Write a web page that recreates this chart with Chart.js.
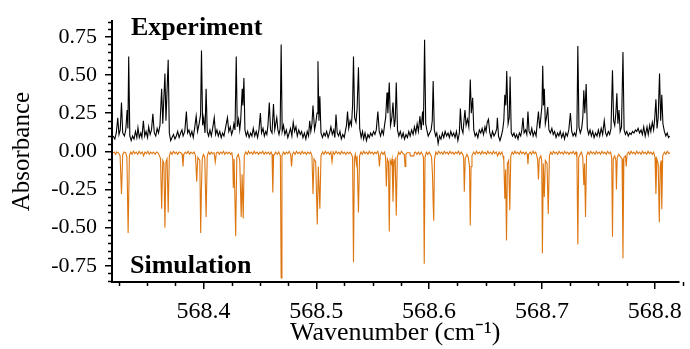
<!DOCTYPE html>
<html>
<head>
<meta charset="utf-8">
<script src="https://cdn.jsdelivr.net/npm/chart.js@4/dist/chart.umd.min.js"></script>
<style>
  body { margin: 0; background: #fff; }
</style>
</head>
<body>
<canvas id="myChart" width="690" height="349"></canvas>
<script>
// axis ticks (major)
const xTicks = [568.4, 568.5, 568.6, 568.7, 568.8];
const yTicks = [-0.75, -0.5, -0.25, 0, 0.25, 0.5, 0.75];

// measured spectrum, [wavenumber, absorbance]
const experiment = [
[568.3200,0.10],[568.3215,0.08],[568.3228,0.12],[568.3241,0.22],[568.3252,0.11],[568.3263,0.14],[568.3274,0.32],[568.3285,0.12],
[568.3300,0.10],[568.3312,0.14],[568.3324,0.27],[568.3331,0.15],[568.3338,0.62],[568.3348,0.10],[568.3360,0.07],[568.3372,0.10],
[568.3385,0.08],[568.3398,0.13],[568.3410,0.09],[568.3420,0.155],[568.3432,0.09],[568.3445,0.12],[568.3455,0.09],[568.3468,0.20],
[568.3480,0.10],[568.3492,0.13],[568.3505,0.09],[568.3515,0.16],[568.3528,0.11],[568.3540,0.14],[568.3552,0.245],[568.3565,0.12],
[568.3578,0.10],[568.3590,0.15],[568.3602,0.12],[568.3615,0.17],[568.3630,0.41],[568.3640,0.18],[568.3659,0.51],[568.3668,0.20],
[568.3688,0.60],[568.3698,0.12],[568.3710,0.07],[568.3722,0.09],[568.3735,0.11],[568.3748,0.08],[568.3760,0.10],[568.3772,0.13],
[568.3785,0.09],[568.3798,0.12],[568.3810,0.14],[568.3820,0.10],[568.3835,0.13],[568.3849,0.26],[568.3860,0.12],[568.3872,0.14],
[568.3885,0.10],[568.3898,0.13],[568.3910,0.09],[568.3922,0.15],[568.3936,0.23],[568.3948,0.13],[568.3962,0.18],[568.3975,0.24],
[568.3983,0.66],[568.3993,0.17],[568.4003,0.22],[568.4014,0.12],[568.4024,0.41],[568.4034,0.13],[568.4046,0.10],[568.4058,0.14],
[568.4070,0.10],[568.4082,0.15],[568.4096,0.22],[568.4108,0.11],[568.4120,0.14],[568.4132,0.10],[568.4145,0.13],[568.4158,0.09],
[568.4170,0.12],[568.4182,0.10],[568.4195,0.15],[568.4213,0.22],[568.4225,0.13],[568.4238,0.16],[568.4250,0.11],[568.4262,0.14],
[568.4270,0.18],[568.4280,0.14],[568.4291,0.62],[568.4300,0.16],[568.4312,0.21],[568.4322,0.14],[568.4330,0.20],[568.4344,0.41],
[568.4350,0.30],[568.4359,0.48],[568.4368,0.14],[568.4380,0.10],[568.4392,0.13],[568.4405,0.09],[568.4418,0.12],[568.4430,0.10],
[568.4442,0.15],[568.4455,0.10],[568.4468,0.13],[568.4480,0.09],[568.4492,0.14],[568.4505,0.25],[568.4515,0.12],[568.4528,0.15],
[568.4540,0.10],[568.4552,0.13],[568.4562,0.11],[568.4572,0.17],[568.4584,0.32],[568.4595,0.14],[568.4608,0.12],[568.4621,0.31],
[568.4632,0.14],[568.4650,0.22],[568.4660,0.14],[568.4670,0.11],[568.4680,0.15],[568.4689,0.70],[568.4698,0.13],[568.4710,0.17],
[568.4722,0.11],[568.4735,0.14],[568.4748,0.09],[568.4760,0.12],[568.4772,0.15],[568.4784,0.10],[568.4796,0.19],[568.4808,0.13],
[568.4820,0.16],[568.4832,0.10],[568.4845,0.14],[568.4858,0.11],[568.4870,0.13],[568.4882,0.09],[568.4895,0.12],[568.4908,0.08],
[568.4920,0.13],[568.4932,0.10],[568.4942,0.20],[568.4952,0.13],[568.4962,0.18],[568.4971,0.30],[568.4985,0.14],[568.4995,0.18],
[568.5007,0.25],[568.5015,0.59],[568.5024,0.20],[568.5032,0.36],[568.5042,0.12],[568.5055,0.09],[568.5068,0.12],[568.5080,0.10],
[568.5092,0.13],[568.5105,0.09],[568.5118,0.12],[568.5130,0.16],[568.5142,0.11],[568.5155,0.14],[568.5165,0.09],[568.5175,0.24],
[568.5186,0.12],[568.5198,0.10],[568.5210,0.13],[568.5222,0.08],[568.5235,0.11],[568.5248,0.09],[568.5260,0.14],[568.5268,0.17],
[568.5277,0.26],[568.5288,0.15],[568.5300,0.20],[568.5312,0.17],[568.5322,0.30],[568.5330,0.62],[568.5340,0.22],[568.5352,0.19],
[568.5362,0.28],[568.5374,0.55],[568.5385,0.15],[568.5398,0.09],[568.5410,0.13],[568.5420,0.08],[568.5432,0.12],[568.5445,0.07],
[568.5458,0.11],[568.5470,0.09],[568.5482,0.12],[568.5495,0.10],[568.5508,0.13],[568.5520,0.11],[568.5532,0.14],[568.5546,0.26],
[568.5558,0.13],[568.5570,0.10],[568.5582,0.14],[568.5595,0.11],[568.5605,0.17],[568.5615,0.22],[568.5627,0.385],[568.5635,0.25],
[568.5647,0.45],[568.5658,0.17],[568.5670,0.22],[568.5680,0.32],[568.5692,0.16],[568.5700,0.21],[568.5709,0.45],[568.5720,0.14],
[568.5732,0.10],[568.5745,0.13],[568.5758,0.09],[568.5770,0.12],[568.5782,0.08],[568.5795,0.11],[568.5808,0.09],[568.5820,0.13],
[568.5832,0.10],[568.5845,0.14],[568.5858,0.11],[568.5870,0.16],[568.5882,0.12],[568.5894,0.18],[568.5905,0.13],[568.5919,0.23],
[568.5930,0.14],[568.5942,0.26],[568.5950,0.17],[568.5960,0.73],[568.5970,0.18],[568.5980,0.14],[568.5992,0.10],[568.6005,0.12],
[568.6018,0.14],[568.6028,0.20],[568.6036,0.46],[568.6046,0.14],[568.6058,0.10],[568.6068,0.12],[568.6080,0.05],[568.6092,0.10],
[568.6105,0.08],[568.6118,0.12],[568.6130,0.09],[568.6142,0.13],[568.6155,0.10],[568.6168,0.12],[568.6180,0.09],[568.6192,0.13],
[568.6205,0.10],[568.6218,0.12],[568.6230,0.09],[568.6242,0.13],[568.6255,0.07],[568.6268,0.12],[568.6277,0.28],[568.6288,0.15],
[568.6300,0.12],[568.6309,0.20],[568.6318,0.27],[568.6328,0.17],[568.6340,0.21],[568.6352,0.16],[568.6365,0.47],[568.6374,0.25],
[568.6386,0.35],[568.6396,0.14],[568.6408,0.10],[568.6420,0.12],[568.6432,0.09],[568.6445,0.14],[568.6458,0.12],[568.6470,0.15],
[568.6482,0.11],[568.6495,0.16],[568.6505,0.13],[568.6515,0.19],[568.6526,0.21],[568.6538,0.12],[568.6550,0.09],[568.6562,0.13],
[568.6575,0.10],[568.6588,0.12],[568.6600,0.15],[568.6605,0.22],[568.6615,0.10],[568.6628,0.07],[568.6640,0.10],[568.6652,0.14],
[568.6662,0.20],[568.6671,0.37],[568.6680,0.30],[568.6688,0.525],[568.6700,0.18],[568.6710,0.22],[568.6718,0.49],[568.6728,0.12],
[568.6740,0.10],[568.6752,0.12],[568.6764,0.09],[568.6776,0.11],[568.6788,0.08],[568.6800,0.12],[568.6812,0.10],[568.6822,0.14],
[568.6832,0.22],[568.6842,0.12],[568.6855,0.14],[568.6866,0.11],[568.6876,0.26],[568.6886,0.13],[568.6898,0.11],[568.6910,0.15],
[568.6922,0.10],[568.6935,0.13],[568.6948,0.10],[568.6958,0.18],[568.6969,0.26],[568.6980,0.15],[568.6990,0.22],[568.7000,0.30],
[568.7007,0.56],[568.7014,0.30],[568.7021,0.41],[568.7030,0.18],[568.7040,0.22],[568.7051,0.29],[568.7062,0.14],[568.7075,0.12],
[568.7088,0.15],[568.7100,0.11],[568.7112,0.13],[568.7125,0.09],[568.7138,0.12],[568.7150,0.10],[568.7162,0.13],[568.7175,0.09],
[568.7188,0.12],[568.7200,0.08],[568.7212,0.12],[568.7225,0.10],[568.7238,0.14],[568.7252,0.25],[568.7264,0.13],[568.7276,0.10],
[568.7288,0.12],[568.7300,0.10],[568.7310,0.15],[568.7318,0.69],[568.7328,0.16],[568.7340,0.12],[568.7352,0.15],[568.7362,0.22],
[568.7371,0.40],[568.7380,0.25],[568.7392,0.44],[568.7402,0.15],[568.7414,0.11],[568.7426,0.14],[568.7438,0.10],[568.7450,0.13],
[568.7462,0.09],[568.7475,0.12],[568.7488,0.10],[568.7500,0.14],[568.7512,0.10],[568.7525,0.15],[568.7538,0.11],[568.7552,0.20],
[568.7564,0.12],[568.7575,0.10],[568.7588,0.13],[568.7600,0.11],[568.7612,0.15],[568.7625,0.53],[568.7635,0.20],[568.7645,0.17],
[568.7655,0.25],[568.7664,0.38],[568.7673,0.18],[568.7683,0.27],[568.7693,0.13],[568.7705,0.16],[568.7718,0.65],[568.7728,0.14],
[568.7740,0.11],[568.7752,0.13],[568.7765,0.10],[568.7778,0.12],[568.7790,0.11],[568.7802,0.13],[568.7815,0.12],[568.7828,0.14],
[568.7840,0.13],[568.7852,0.15],[568.7865,0.12],[568.7878,0.14],[568.7890,0.11],[568.7902,0.16],[568.7915,0.10],[568.7931,0.16],
[568.7942,0.11],[568.7955,0.17],[568.7965,0.13],[568.7978,0.19],[568.7990,0.14],[568.8000,0.22],[568.8010,0.34],[568.8020,0.15],
[568.8030,0.22],[568.8042,0.51],[568.8052,0.20],[568.8062,0.37],[568.8072,0.18],[568.8085,0.13],[568.8098,0.10],[568.8110,0.12],
[568.8122,0.09],[568.8132,0.10]
];

// simulated spectrum (plotted downward), [wavenumber, absorbance]
const simulation = [
[568.3201,-0.01],[568.3210,-0.005],[568.3222,-0.02],[568.3232,-0.005],[568.3248,-0.01],[568.3262,-0.03],[568.3274,-0.28],[568.3285,-0.02],
[568.3298,-0.005],[568.3312,-0.01],[568.3322,-0.04],[568.3333,-0.535],[568.3344,-0.03],[568.3356,-0.005],[568.3368,-0.02],[568.3380,0],
[568.3392,-0.015],[568.3405,-0.005],[568.3418,-0.02],[568.3430,0],[568.3444,-0.015],[568.3458,-0.005],[568.3470,-0.03],[568.3482,-0.005],
[568.3495,-0.015],[568.3508,0],[568.3520,-0.02],[568.3532,-0.005],[568.3545,-0.015],[568.3558,-0.005],[568.3572,-0.02],[568.3585,-0.005],
[568.3598,-0.01],[568.3612,-0.03],[568.3620,-0.05],[568.3630,-0.376],[568.3640,-0.06],[568.3650,-0.08],[568.3659,-0.50],[568.3668,-0.07],
[568.3678,-0.05],[568.3688,-0.40],[568.3698,-0.03],[568.3710,-0.005],[568.3722,-0.02],[568.3735,0],[568.3748,-0.015],[568.3760,-0.005],
[568.3772,-0.02],[568.3785,-0.005],[568.3800,-0.01],[568.3812,-0.02],[568.3819,-0.10],[568.3826,-0.02],[568.3840,-0.005],[568.3852,-0.015],
[568.3865,0],[568.3878,-0.02],[568.3890,-0.005],[568.3905,-0.015],[568.3918,-0.005],[568.3930,-0.03],[568.3941,-0.20],[568.3950,-0.04],
[568.3968,-0.06],[568.3976,-0.535],[568.3982,-0.26],[568.3990,-0.05],[568.4000,-0.02],[568.4012,-0.04],[568.4024,-0.43],[568.4034,-0.03],
[568.4046,-0.005],[568.4058,-0.02],[568.4070,-0.005],[568.4082,-0.015],[568.4095,-0.01],[568.4105,-0.07],[568.4115,-0.01],[568.4128,-0.005],
[568.4140,-0.02],[568.4152,-0.005],[568.4165,-0.015],[568.4178,0],[568.4190,-0.02],[568.4202,-0.005],[568.4215,-0.015],[568.4228,-0.005],
[568.4240,-0.02],[568.4252,-0.01],[568.4260,-0.05],[568.4265,-0.24],[568.4272,-0.05],[568.4286,-0.556],[568.4296,-0.04],[568.4310,-0.02],
[568.4322,-0.06],[568.4335,-0.43],[568.4343,-0.15],[568.4353,-0.44],[568.4362,-0.03],[568.4375,-0.005],[568.4388,-0.02],[568.4400,0],
[568.4412,-0.015],[568.4425,-0.005],[568.4438,-0.02],[568.4450,0],[568.4462,-0.015],[568.4475,-0.005],[568.4488,-0.02],[568.4500,-0.005],
[568.4512,-0.015],[568.4525,0],[568.4538,-0.02],[568.4550,-0.005],[568.4562,-0.015],[568.4575,-0.005],[568.4588,-0.02],[568.4600,-0.005],
[568.4608,-0.02],[568.4615,-0.27],[568.4622,-0.03],[568.4640,-0.005],[568.4655,-0.02],[568.4668,-0.005],[568.4682,-0.03],[568.4689,-0.83],
[568.4696,-0.03],[568.4710,-0.005],[568.4722,-0.02],[568.4735,-0.005],[568.4748,-0.015],[568.4760,0],[568.4773,-0.02],[568.4781,-0.10],
[568.4789,-0.02],[568.4800,-0.005],[568.4812,-0.02],[568.4825,0],[568.4838,-0.015],[568.4850,-0.005],[568.4862,-0.02],[568.4875,0],
[568.4888,-0.015],[568.4900,-0.005],[568.4912,-0.02],[568.4925,-0.005],[568.4938,-0.015],[568.4950,-0.005],[568.4962,-0.03],[568.4971,-0.28],
[568.4980,-0.05],[568.4995,-0.07],[568.5009,-0.48],[568.5018,-0.10],[568.5032,-0.376],[568.5042,-0.03],[568.5055,-0.005],[568.5068,-0.02],
[568.5080,0],[568.5092,-0.015],[568.5105,-0.005],[568.5118,-0.02],[568.5130,-0.005],[568.5140,-0.07],[568.5150,-0.005],[568.5162,-0.02],
[568.5175,0],[568.5188,-0.015],[568.5200,-0.005],[568.5212,-0.02],[568.5225,0],[568.5238,-0.015],[568.5250,-0.005],[568.5262,-0.02],
[568.5275,-0.005],[568.5288,-0.015],[568.5300,-0.005],[568.5312,-0.02],[568.5322,-0.04],[568.5330,-0.727],[568.5338,-0.05],[568.5346,-0.02],
[568.5355,-0.08],[568.5362,-0.03],[568.5374,-0.40],[568.5384,-0.03],[568.5396,-0.005],[568.5408,-0.02],[568.5420,0],[568.5432,-0.015],
[568.5445,-0.005],[568.5458,-0.02],[568.5470,0],[568.5482,-0.015],[568.5495,-0.005],[568.5508,-0.02],[568.5520,-0.005],[568.5532,-0.015],
[568.5545,0],[568.5552,-0.02],[568.5560,-0.10],[568.5568,-0.02],[568.5580,-0.005],[568.5592,-0.02],[568.5605,-0.005],[568.5614,-0.04],
[568.5621,-0.23],[568.5630,-0.05],[568.5640,-0.07],[568.5647,-0.525],[568.5655,-0.06],[568.5664,-0.08],[568.5672,-0.05],[568.5680,-0.33],
[568.5690,-0.07],[568.5700,-0.05],[568.5709,-0.42],[568.5718,-0.04],[568.5730,-0.005],[568.5742,-0.02],[568.5755,0],[568.5768,-0.015],
[568.5780,-0.02],[568.5787,-0.10],[568.5794,-0.02],[568.5805,-0.01],[568.5830,-0.01],[568.5835,-0.03],[568.5865,-0.03],[568.5870,-0.01],
[568.5880,-0.005],[568.5892,-0.02],[568.5905,-0.005],[568.5918,-0.02],[568.5930,-0.005],[568.5942,-0.02],[568.5950,-0.04],[568.5957,-0.737],
[568.5964,-0.04],[568.5975,-0.005],[568.5988,-0.02],[568.6000,-0.005],[568.6012,-0.02],[568.6022,-0.04],[568.6030,-0.15],[568.6036,-0.34],
[568.6041,-0.455],[568.6048,-0.05],[568.6060,-0.005],[568.6072,-0.02],[568.6085,0],[568.6098,-0.015],[568.6110,-0.005],[568.6122,-0.02],
[568.6135,0],[568.6148,-0.015],[568.6160,-0.005],[568.6172,-0.02],[568.6185,0],[568.6198,-0.015],[568.6210,-0.005],[568.6222,-0.02],
[568.6235,-0.005],[568.6248,-0.015],[568.6260,0],[568.6272,-0.02],[568.6285,-0.005],[568.6298,-0.02],[568.6306,-0.04],[568.6312,-0.265],
[568.6320,-0.05],[568.6335,-0.02],[568.6348,-0.04],[568.6358,-0.10],[568.6365,-0.486],[568.6372,-0.10],[568.6380,-0.03],[568.6395,-0.005],
[568.6408,-0.02],[568.6420,0],[568.6432,-0.015],[568.6445,-0.005],[568.6458,-0.02],[568.6470,0],[568.6482,-0.015],[568.6495,-0.005],
[568.6508,-0.02],[568.6520,0],[568.6532,-0.015],[568.6545,-0.005],[568.6558,-0.02],[568.6570,0],[568.6582,-0.015],[568.6595,-0.005],
[568.6608,-0.03],[568.6620,-0.005],[568.6632,-0.02],[568.6645,-0.005],[568.6655,-0.03],[568.6662,-0.06],[568.6671,-0.31],[568.6678,-0.12],
[568.6686,-0.584],[568.6694,-0.08],[568.6705,-0.06],[568.6715,-0.386],[568.6724,-0.03],[568.6736,-0.005],[568.6748,-0.02],[568.6760,0],
[568.6772,-0.015],[568.6785,-0.005],[568.6798,-0.02],[568.6810,0],[568.6822,-0.015],[568.6835,-0.005],[568.6848,-0.02],[568.6860,-0.005],
[568.6870,-0.02],[568.6876,-0.085],[568.6882,-0.02],[568.6895,-0.005],[568.6908,-0.02],[568.6920,0],[568.6932,-0.015],[568.6945,-0.005],
[568.6955,-0.03],[568.6962,-0.06],[568.6969,-0.185],[568.6976,-0.05],[568.6990,-0.03],[568.6998,-0.06],[568.7004,-0.667],[568.7012,-0.08],
[568.7021,-0.30],[568.7030,-0.06],[568.7045,-0.08],[568.7056,-0.41],[568.7066,-0.03],[568.7078,-0.005],[568.7090,-0.02],[568.7102,0],
[568.7115,-0.015],[568.7128,-0.005],[568.7140,-0.02],[568.7152,0],[568.7165,-0.015],[568.7178,-0.005],[568.7190,-0.02],[568.7202,0],
[568.7215,-0.015],[568.7228,-0.005],[568.7240,-0.02],[568.7252,-0.005],[568.7265,-0.015],[568.7278,0],[568.7290,-0.02],[568.7302,-0.005],
[568.7310,-0.04],[568.7318,-0.61],[568.7326,-0.04],[568.7338,-0.02],[568.7350,-0.005],[568.7362,-0.04],[568.7371,-0.22],[568.7378,-0.08],
[568.7386,-0.43],[568.7395,-0.03],[568.7408,-0.005],[568.7420,-0.02],[568.7432,0],[568.7445,-0.015],[568.7458,-0.005],[568.7470,-0.02],
[568.7482,0],[568.7495,-0.015],[568.7508,-0.005],[568.7520,-0.02],[568.7532,0],[568.7545,-0.015],[568.7558,-0.005],[568.7570,-0.02],
[568.7582,0],[568.7595,-0.015],[568.7608,-0.005],[568.7618,-0.04],[568.7625,-0.56],[568.7632,-0.05],[568.7645,-0.03],[568.7655,-0.06],
[568.7660,-0.25],[568.7667,-0.04],[568.7680,-0.02],[568.7710,-0.05],[568.7718,-0.70],[568.7726,-0.04],[568.7740,-0.03],[568.7747,-0.10],
[568.7754,-0.02],[568.7766,-0.005],[568.7778,-0.02],[568.7790,0],[568.7802,-0.015],[568.7815,-0.005],[568.7828,-0.02],[568.7840,0],
[568.7852,-0.015],[568.7865,-0.005],[568.7878,-0.02],[568.7890,0],[568.7902,-0.015],[568.7915,-0.005],[568.7928,-0.02],[568.7940,0],
[568.7952,-0.015],[568.7965,-0.005],[568.7978,-0.02],[568.7990,-0.005],[568.8002,-0.04],[568.8010,-0.28],[568.8018,-0.05],[568.8030,-0.08],
[568.8040,-0.465],[568.8048,-0.10],[568.8056,-0.06],[568.8062,-0.38],[568.8070,-0.03],[568.8085,-0.005],[568.8098,-0.02],[568.8110,0],
[568.8125,-0.015],[568.8136,-0.01]
];

const serif = "'Liberation Serif', 'Times New Roman', serif";

// small ticks between the labelled ones + the two panel captions
const extras = {
	id: 'extras',
	afterDraw(chart) {
		const ctx = chart.ctx;
		const xs = chart.scales.x;
		const ys = chart.scales.y;
		const area = chart.chartArea;
		ctx.save();
		ctx.strokeStyle = '#000';
		ctx.lineWidth = 1.5;
		ctx.beginPath();
		for (let i = -17; i <= 17; i++) {
			if (i % 5 === 0) continue;
			const py = Math.round(ys.getPixelForValue(i * 0.05)) + 0.5;
			ctx.moveTo(area.left - 4, py);
			ctx.lineTo(area.left, py);
		}
		for (let i = 1; i <= 21; i++) {
			if (i % 4 === 0) continue;
			const px = Math.round(xs.getPixelForValue(568.3 + i * 0.025)) + 0.5;
			ctx.moveTo(px, area.bottom);
			ctx.lineTo(px, area.bottom + 4);
		}
		ctx.stroke();

		ctx.fillStyle = '#000';
		ctx.font = 'bold 26px ' + serif;
		ctx.textBaseline = 'alphabetic';
		ctx.fillText('Experiment', 131, 35);
		ctx.fillText('Simulation', 130, 273);
		ctx.restore();
	}
};

const myChart = document.getElementById('myChart');

new Chart(myChart, {
	type: 'line',
	data: {
		datasets: [
			{
				label: 'Experiment',
				data: experiment.map(p => ({x: p[0], y: p[1]})),
				borderColor: '#000',
				borderWidth: 1.1,
				pointRadius: 0,
				tension: 0
			},
			{
				label: 'Simulation',
				data: simulation.map(p => ({x: p[0], y: p[1]})),
				borderColor: 'rgb(222,118,16)',
				borderWidth: 1.1,
				pointRadius: 0,
				tension: 0
			}
		]
	},
	options: {
		responsive: false,
		animation: false,
		layout: {padding: {top: 14, right: 5, left: 0, bottom: 0}},
		plugins: {
			legend: {display: false},
			tooltip: {enabled: false}
		},
		scales: {
			x: {
				type: 'linear',
				min: 568.319,
				max: 568.821,
				afterBuildTicks: s => { s.ticks = xTicks.map(v => ({value: v})); },
				afterFit: s => { s.height = 67; },
				border: {display: true, color: '#000', width: 2},
				grid: {drawOnChartArea: false, color: '#000', tickColor: '#000', tickLength: 7, lineWidth: 1.5},
				ticks: {
					color: '#000',
					padding: 8,
					maxRotation: 0,
					font: {family: serif, size: 24},
					callback: v => v.toFixed(1)
				},
				title: {
					display: true,
					text: 'Wavenumber (cm\u207B\u00B9)',
					color: '#000',
					font: {family: serif, size: 26},
					padding: {top: 0, bottom: 0}
				}
			},
			y: {
				min: -0.856,
				max: 0.852,
				afterBuildTicks: s => { s.ticks = yTicks.map(v => ({value: v})); },
				afterFit: s => { s.width = 112; },
				border: {display: true, color: '#000', width: 2},
				grid: {drawOnChartArea: false, color: '#000', tickColor: '#000', tickLength: 7, lineWidth: 1.5},
				ticks: {
					color: '#000',
					padding: 8,
					font: {family: serif, size: 22},
					callback: v => v.toFixed(2)
				},
				title: {
					display: true,
					text: 'Absorbance',
					color: '#000',
					font: {family: serif, size: 25},
					padding: {top: 7, bottom: 0}
				}
			}
		}
	},
	plugins: [extras]
});
</script>
</body>
</html>
